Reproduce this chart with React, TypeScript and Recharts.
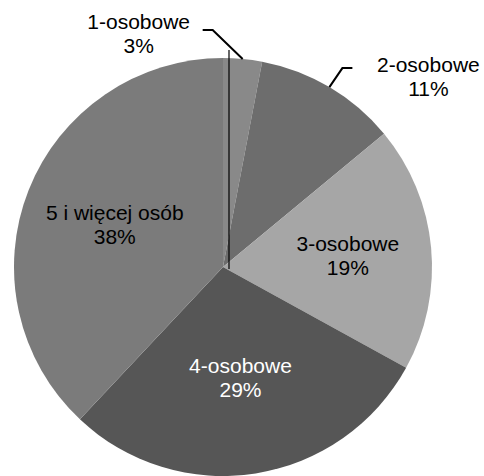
import React from 'react';
import { PieChart, Pie, Cell } from 'recharts';

const categories = ['1-osobowe', '2-osobowe', '3-osobowe', '4-osobowe', '5 i więcej osób'];
const values = [3, 11, 19, 29, 38];

const colors = ['#898989', '#6d6d6d', '#a6a6a6', '#565656', '#7b7b7b'];
const textColors = ['#000', '#000', '#000', '#fff', '#000'];
const insideFactors = [0, 0, 0.6, 0.535, 0.557];
const FONT = '"Liberation Sans", Arial, sans-serif';
const FS = 21;

const data = categories.map((name, i) => ({ name, value: values[i] }));

const RAD = Math.PI / 180;

const renderLabel = (props: any) => {
  const { cx, cy, midAngle, outerRadius, index, value, name } = props;
  const px = (r: number) => cx + r * Math.cos(-midAngle * RAD);
  const py = (r: number) => cy + r * Math.sin(-midAngle * RAD);
  const lines = [name, `${value}%`];
  const fill = textColors[index];

  const textBlock = (x: number, y: number) => (
    <>
      <text x={x} y={y - 12} textAnchor="middle" dominantBaseline="central" fontFamily={FONT} fontSize={FS} fill={fill}>
        {lines[0]}
      </text>
      <text x={x} y={y + 12} textAnchor="middle" dominantBaseline="central" fontFamily={FONT} fontSize={FS} fill={fill}>
        {lines[1]}
      </text>
    </>
  );

  if (index < 2) {
    const ex = px(outerRadius);
    const ey = py(outerRadius);
    const dir = index === 0 ? -1 : 1;
    const elbow = index === 0 ? { x: ex - 30, y: ey - 29 } : { x: ex + 13, y: ey - 19 };
    const end = { x: elbow.x + dir * 10, y: elbow.y };
    const tx = index === 0 ? elbow.x - 74 : elbow.x + 86;
    const ty = index === 0 ? elbow.y + 4 : elbow.y + 8;
    return (
      <g key={`lbl-${index}`}>
        {index === 0 && (
          <line x1={cx + 6} y1={cy - outerRadius - 8} x2={cx + 6} y2={cy + 2} stroke="#000" strokeWidth={1.2} />
        )}
        <polyline
          points={`${ex},${ey} ${elbow.x},${elbow.y} ${end.x},${end.y}`}
          fill="none"
          stroke="#000"
          strokeWidth={2}
        />
        {textBlock(tx, ty)}
      </g>
    );
  }
  const f = insideFactors[index] * outerRadius;
  return <g key={`lbl-${index}`}>{textBlock(px(f), py(f))}</g>;
};

export default function App() {
  return (
    <div style={{ position: 'absolute', left: 0, top: 0, background: '#fff' }}>
      <PieChart width={484} height={476} margin={{ top: 0, right: 0, bottom: 0, left: 0 }}>
        <Pie
          data={data}
          dataKey="value"
          nameKey="name"
          cx={223}
          cy={267}
          outerRadius={209}
          startAngle={90}
          endAngle={-270}
          stroke="none"
          labelLine={false}
          label={renderLabel}
          isAnimationActive={false}
        >
          {data.map((d, i) => (
            <Cell key={d.name} fill={colors[i]} />
          ))}
        </Pie>
      </PieChart>
    </div>
  );
}
